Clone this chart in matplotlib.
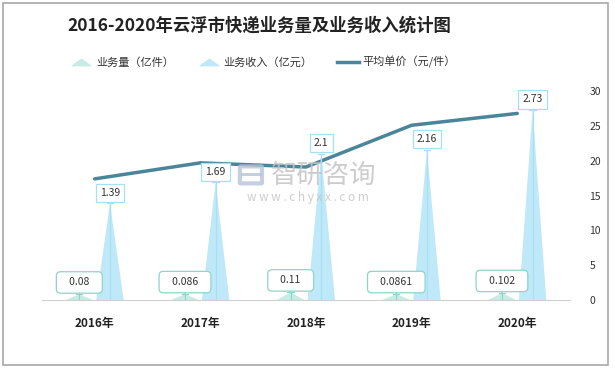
import matplotlib
matplotlib.use('Agg')
import matplotlib.pyplot as plt
from matplotlib.lines import Line2D
from matplotlib.patches import Rectangle, FancyBboxPatch
import numpy as np

plt.rcParams['font.family'] = ['Noto Sans CJK SC', 'DejaVu Sans']

years = ['2016年', '2017年', '2018年', '2019年', '2020年']
volume = [0.08, 0.086, 0.11, 0.0861, 0.102]        # 业务量（亿件）
income = [1.39, 1.69, 2.1, 2.16, 2.73]            # 业务收入（亿元）
price = [17.4, 19.7, 19.1, 25.1, 26.8]            # 平均单价（元/件）
vol_labels = ['0.08', '0.086', '0.11', '0.0861', '0.102']
inc_labels = ['1.39', '1.69', '2.1', '2.16', '2.73']

c_vol = '#c6ece4'
c_vol_edge = '#8fd4c6'
c_inc = '#bfe9f8'
c_inc_edge = '#a6e0f4'
c_line = '#4b8599'

fig = plt.figure(figsize=(6.15, 3.69), dpi=100)
fig.patches.append(Rectangle((0.005, 0.011), 0.984, 0.981, transform=fig.transFigure,
                             fill=False, edgecolor='#a8a8a8', lw=1.2))

ax = fig.add_axes([0.068, 0.187, 0.859, 0.566])
ax2 = ax.twinx()

x = np.arange(len(years))
w = 0.26
off = 0.145

for i in x:
    # volume triangle
    xv = i - off
    ax.fill([xv - w / 2, xv + w / 2, xv], [0, 0, volume[i]], color=c_vol, lw=0, zorder=2)
    ax.plot([xv, xv], [0, volume[i]], color=c_vol_edge, lw=0.8, zorder=3)
    ax.plot([xv - 0.03, xv + 0.03], [volume[i], volume[i]], color=c_vol_edge, lw=0.8, zorder=3)
    ax.annotate('   ' + vol_labels[i] + '   ', xy=(xv, volume[i]), xytext=(0, 5),
                textcoords='offset points', ha='center', va='bottom', fontsize=7.5,
                color='#333333', zorder=6,
                bbox=dict(boxstyle='round,pad=0.55,rounding_size=0.4', fc='white',
                          ec=c_vol_edge, lw=0.9),
                arrowprops=dict(arrowstyle='-', color=c_vol_edge, lw=0.9,
                                shrinkA=0, shrinkB=0))
    # income triangle
    xi = i + off
    ax.fill([xi - w / 2, xi + w / 2, xi], [0, 0, income[i]], color=c_inc, lw=0, zorder=2)
    ax.plot([xi, xi], [0, income[i]], color=c_inc_edge, lw=0.9, zorder=3)
    ax.plot([xi - 0.03, xi + 0.03], [income[i], income[i]], color=c_inc_edge, lw=0.9, zorder=3)
    ax.annotate(inc_labels[i], xy=(xi, income[i]), xytext=(0, 4),
                textcoords='offset points', ha='center', va='bottom', fontsize=7.5,
                color='#333333', zorder=6,
                bbox=dict(boxstyle='square,pad=0.4', fc='white', ec=c_inc_edge, lw=0.9))

ax.set_xlim(-0.5, len(years) - 0.5)
ax.set_ylim(0, 3)
ax.set_yticks([])
ax.set_xticks(x)
ax.set_xticklabels(years, fontsize=8.5, fontweight='bold', color='#222222')
ax.tick_params(axis='x', length=0, pad=12)
for s in ['top', 'right', 'left']:
    ax.spines[s].set_visible(False)
ax.spines['bottom'].set_color('#d0d0d0')

ax2.plot(x, price, color=c_line, lw=2.5, solid_capstyle='round', zorder=4)
ax2.set_ylim(0, 30)
ax2.set_yticks([0, 5, 10, 15, 20, 25, 30])
ax2.tick_params(axis='y', length=0, pad=14, labelsize=7.5, labelcolor='#333333')
for s in ['top', 'right', 'left', 'bottom']:
    ax2.spines[s].set_visible(False)
ax.set_zorder(ax2.get_zorder() + 1)
ax.patch.set_visible(False)

# watermark
fig.text(0.527, 0.525, '智研咨询', fontsize=19, color='#c4c4c4', ha='center', va='center',
         alpha=0.85)
fig.patches.append(FancyBboxPatch((0.392, 0.505), 0.032, 0.042, transform=fig.transFigure,
                                  boxstyle='round,pad=0.002', fill=False,
                                  ec='#b8c3d8', lw=3, alpha=0.8))
fig.patches.append(Rectangle((0.392, 0.522), 0.034, 0.009, transform=fig.transFigure,
                             fc='#b8c3d8', ec='none', alpha=0.8))
fig.text(0.5, 0.465, 'w w w . c h y x x . c o m', fontsize=8.5, color='#c4c4c4',
         ha='center', va='center', alpha=0.85)

fig.text(0.421, 0.93, '2016-2020年云浮市快递业务量及业务收入统计图', fontsize=12.5,
         fontweight='bold', color='#222222', ha='center', va='center')

tri = [(-1.4, -0.5), (1.4, -0.5), (0, 0.5), (-1.4, -0.5)]
handles = [
    Line2D([], [], ls='none', marker=tri, markersize=13, color=c_vol, mec=c_vol),
    Line2D([], [], ls='none', marker=tri, markersize=13, color=c_inc, mec=c_inc),
    Line2D([], [], color=c_line, lw=2.5),
]
fig.legend(handles, ['业务量（亿件）', '业务收入（亿元）', '平均单价（元/件）'],
           loc='center', bbox_to_anchor=(0.428, 0.832), ncol=3, frameon=False,
           fontsize=8, handlelength=2.0, columnspacing=2.2, handletextpad=0.3,
           labelcolor='#333333')

fig.savefig('out.png', dpi=100)
